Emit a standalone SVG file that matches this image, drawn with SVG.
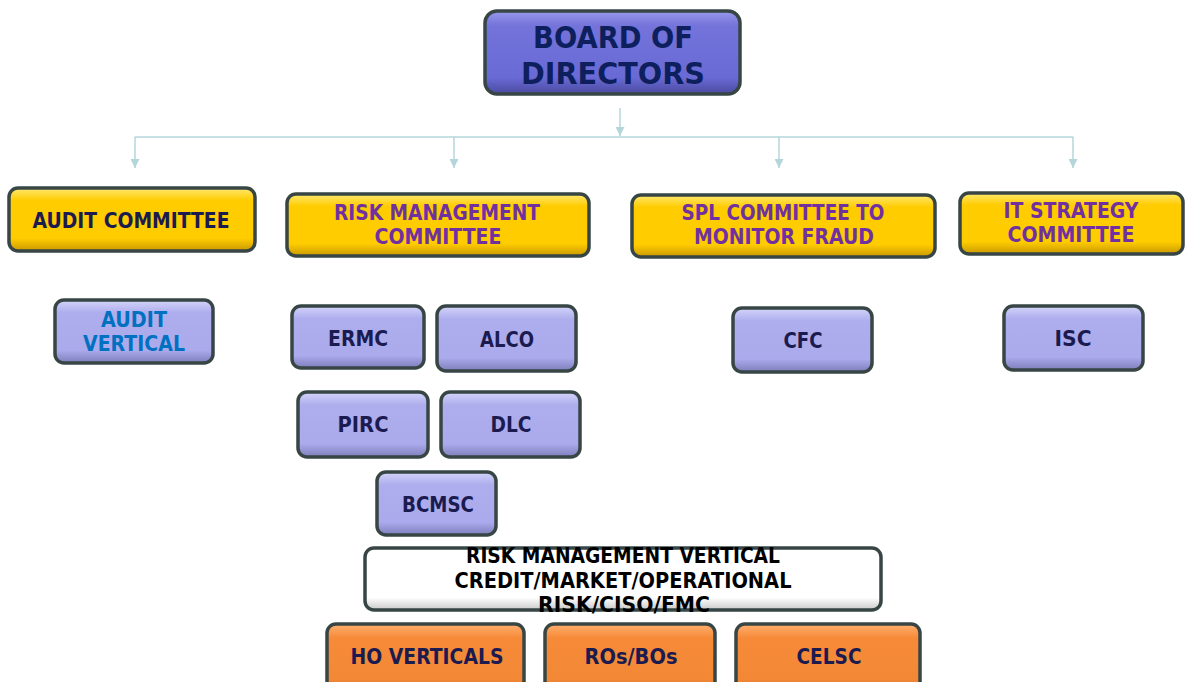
<svg xmlns="http://www.w3.org/2000/svg" width="1186" height="682" viewBox="0 0 1186 682">
<defs>
<linearGradient id="gBlue" x1="0" y1="0" x2="0" y2="1">
<stop offset="0" stop-color="#9898EC"/><stop offset="0.18" stop-color="#7373DA"/><stop offset="0.8" stop-color="#6A6AD6"/><stop offset="1" stop-color="#4A4AA0"/>
</linearGradient>
<linearGradient id="gYel" x1="0" y1="0" x2="0" y2="1">
<stop offset="0" stop-color="#FFE870"/><stop offset="0.2" stop-color="#FFCC00"/><stop offset="0.8" stop-color="#FFCC00"/><stop offset="1" stop-color="#C89800"/>
</linearGradient>
<linearGradient id="gLav" x1="0" y1="0" x2="0" y2="1">
<stop offset="0" stop-color="#D4D4FA"/><stop offset="0.2" stop-color="#AEAEEE"/><stop offset="0.8" stop-color="#AAAAEC"/><stop offset="1" stop-color="#7E7EBC"/>
</linearGradient>
<linearGradient id="gWhite" x1="0" y1="0" x2="0" y2="1">
<stop offset="0" stop-color="#FFFFFF"/><stop offset="0.8" stop-color="#FFFFFF"/><stop offset="1" stop-color="#C8C8C8"/>
</linearGradient>
<linearGradient id="gOr" x1="0" y1="0" x2="0" y2="1">
<stop offset="0" stop-color="#FFB070"/><stop offset="0.2" stop-color="#F68A38"/><stop offset="0.8" stop-color="#F28836"/><stop offset="1" stop-color="#C06020"/>
</linearGradient>
<marker id="arr" viewBox="0 0 10 10" refX="10" refY="5" markerWidth="9" markerHeight="9" markerUnits="userSpaceOnUse" orient="auto">
<path d="M0,0 L10,5 L0,10 z" fill="#B4D6DA"/>
</marker>
</defs>
<style>
.box{stroke:#374545;stroke-width:3.5}
.t{font-family:"DejaVu Sans","Liberation Sans",sans-serif;font-weight:bold;text-anchor:middle;dominant-baseline:central}
.navy{fill:#1B1B50}
.purple{fill:#7030A0}
.cyan{fill:#0070C0}
.blk{fill:#000000}
.con{stroke:#B4D6DA;stroke-width:1.5;fill:none}
</style>
<g id="connectors">
<line class="con" x1="620" y1="108" x2="620" y2="136" marker-end="url(#arr)"/>
<line class="con" x1="135" y1="137" x2="1073" y2="137"/>
<line class="con" x1="135" y1="137" x2="135" y2="168" marker-end="url(#arr)"/>
<line class="con" x1="454" y1="137" x2="454" y2="168" marker-end="url(#arr)"/>
<line class="con" x1="779" y1="137" x2="779" y2="168" marker-end="url(#arr)"/>
<line class="con" x1="1073" y1="137" x2="1073" y2="168" marker-end="url(#arr)"/>
</g>
<g id="board">
<rect class="box" x="485" y="11" width="255" height="83" rx="12" fill="url(#gBlue)"/>
<text class="t" x="613" y="37" font-size="30" fill="#0D1F5C" textLength="160" lengthAdjust="spacingAndGlyphs">BOARD OF</text>
<text class="t" x="613" y="73" font-size="30" fill="#0D1F5C" textLength="184" lengthAdjust="spacingAndGlyphs">DIRECTORS</text>
</g>
<g id="audit-committee">
<rect class="box" x="9" y="188" width="246" height="63" rx="9" fill="url(#gYel)"/>
<text class="t navy" x="131" y="221" font-size="20.5" textLength="197" lengthAdjust="spacingAndGlyphs">AUDIT COMMITTEE</text>
</g>
<g id="risk-committee">
<rect class="box" x="287" y="194" width="302" height="62" rx="9" fill="url(#gYel)"/>
<text class="t purple" x="437" y="213" font-size="20.5" textLength="206" lengthAdjust="spacingAndGlyphs">RISK MANAGEMENT</text>
<text class="t purple" x="438" y="237" font-size="20.5" textLength="127" lengthAdjust="spacingAndGlyphs">COMMITTEE</text>
</g>
<g id="spl-committee">
<rect class="box" x="632" y="195" width="303" height="62" rx="9" fill="url(#gYel)"/>
<text class="t purple" x="783" y="213" font-size="20.5" textLength="203" lengthAdjust="spacingAndGlyphs">SPL COMMITTEE TO</text>
<text class="t purple" x="784" y="237" font-size="20.5" textLength="180" lengthAdjust="spacingAndGlyphs">MONITOR FRAUD</text>
</g>
<g id="it-committee">
<rect class="box" x="960" y="193" width="223" height="61" rx="9" fill="url(#gYel)"/>
<text class="t purple" x="1071" y="211" font-size="20.5" textLength="135" lengthAdjust="spacingAndGlyphs">IT STRATEGY</text>
<text class="t purple" x="1071" y="235" font-size="20.5" textLength="127" lengthAdjust="spacingAndGlyphs">COMMITTEE</text>
</g>
<g id="audit-vertical">
<rect class="box" x="55" y="300" width="158" height="63" rx="9" fill="url(#gLav)"/>
<text class="t cyan" x="134" y="320" font-size="20.5" textLength="66" lengthAdjust="spacingAndGlyphs">AUDIT</text>
<text class="t cyan" x="134" y="344" font-size="20.5" textLength="102" lengthAdjust="spacingAndGlyphs">VERTICAL</text>
</g>
<g id="ermc">
<rect class="box" x="292" y="306" width="132" height="62" rx="9" fill="url(#gLav)"/>
<text class="t navy" x="358" y="339" font-size="20.5" textLength="60" lengthAdjust="spacingAndGlyphs">ERMC</text>
</g>
<g id="alco">
<rect class="box" x="437" y="306" width="139" height="65" rx="9" fill="url(#gLav)"/>
<text class="t navy" x="507" y="340" font-size="20.5" textLength="54" lengthAdjust="spacingAndGlyphs">ALCO</text>
</g>
<g id="pirc">
<rect class="box" x="298" y="392" width="130" height="65" rx="9" fill="url(#gLav)"/>
<text class="t navy" x="363" y="425" font-size="20.5" textLength="51" lengthAdjust="spacingAndGlyphs">PIRC</text>
</g>
<g id="dlc">
<rect class="box" x="441" y="392" width="139" height="65" rx="9" fill="url(#gLav)"/>
<text class="t navy" x="511" y="425" font-size="20.5" textLength="41" lengthAdjust="spacingAndGlyphs">DLC</text>
</g>
<g id="bcmsc">
<rect class="box" x="377" y="472" width="119" height="63" rx="9" fill="url(#gLav)"/>
<text class="t navy" x="438" y="505" font-size="20.5" textLength="72" lengthAdjust="spacingAndGlyphs">BCMSC</text>
</g>
<g id="cfc">
<rect class="box" x="733" y="308" width="139" height="64" rx="9" fill="url(#gLav)"/>
<text class="t navy" x="803" y="341" font-size="20.5" textLength="39" lengthAdjust="spacingAndGlyphs">CFC</text>
</g>
<g id="isc">
<rect class="box" x="1004" y="306" width="139" height="64" rx="9" fill="url(#gLav)"/>
<text class="t navy" x="1073" y="339" font-size="20.5" textLength="37" lengthAdjust="spacingAndGlyphs">ISC</text>
</g>
<g id="risk-vertical">
<rect class="box" x="365" y="548" width="516" height="62" rx="9" fill="url(#gWhite)"/>
<text class="t blk" x="623" y="556" font-size="20.5" textLength="314" lengthAdjust="spacingAndGlyphs">RISK MANAGEMENT VERTICAL</text>
<text class="t blk" x="623" y="581" font-size="20.5" textLength="337" lengthAdjust="spacingAndGlyphs">CREDIT/MARKET/OPERATIONAL</text>
<text class="t blk" x="624" y="605" font-size="20.5" textLength="172" lengthAdjust="spacingAndGlyphs">RISK/CISO/FMC</text>
</g>
<g id="ho-verticals">
<rect class="box" x="327" y="624" width="197" height="70" rx="9" fill="url(#gOr)"/>
<text class="t navy" x="427" y="657" font-size="20.5" textLength="153" lengthAdjust="spacingAndGlyphs">HO VERTICALS</text>
</g>
<g id="ros-bos">
<rect class="box" x="545" y="624" width="170" height="70" rx="9" fill="url(#gOr)"/>
<text class="t navy" x="631" y="657" font-size="20.5" textLength="93" lengthAdjust="spacingAndGlyphs">ROs/BOs</text>
</g>
<g id="celsc">
<rect class="box" x="736" y="624" width="184" height="70" rx="9" fill="url(#gOr)"/>
<text class="t navy" x="829" y="657" font-size="20.5" textLength="65" lengthAdjust="spacingAndGlyphs">CELSC</text>
</g>
</svg>
